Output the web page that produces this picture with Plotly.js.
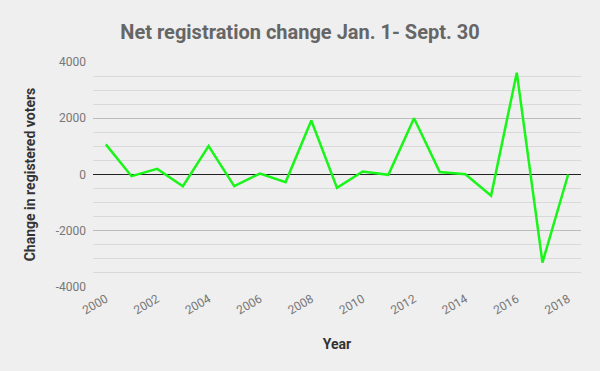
<!DOCTYPE html>
<html><head><meta charset="utf-8">
<script src="https://cdn.plot.ly/plotly-3.0.1.min.js"></script>
<style>html,body{margin:0;padding:0;background:#efefef;}#c{width:600px;height:371px;}</style>
</head><body><div id="c"></div>
<script>
const years = [2000,2001,2002,2003,2004,2005,2006,2007,2008,2009,2010,2011,2012,2013,2014,2015,2016,2017,2018];
const netChange = [1070,-60,200,-415,1010,-415,35,-270,1920,-475,105,-10,2000,85,10,-750,3620,-3130,0];
const yTicks = [-4000,-2000,0,2000,4000];
const xTicks = [2000,2002,2004,2006,2008,2010,2012,2014,2016,2018];

Plotly.newPlot('c', [{
  x: years, y: netChange, type: 'scatter', mode: 'lines',
  line: {color: '#19f519', width: 2.5}, hoverinfo: 'x+y'
}], {
  width: 600, height: 371,
  paper_bgcolor: '#efefef', plot_bgcolor: '#efefef',
  margin: {l: 93, r: 19, t: 62, b: 84},
  font: {family: 'Roboto, sans-serif'},
  title: {text: 'Net registration change Jan. 1- Sept. 30', x: 0.5, xanchor: 'center', y: 0.915, yanchor: 'middle',
    font: {size: 20, color: '#666', family: 'Roboto, sans-serif', weight: 'bold'}},
  showlegend: false,
  xaxis: {range: [1999.5, 2018.5], tickvals: xTicks, ticktext: xTicks.map(String), tickangle: -30,
    showgrid: false, zeroline: false, showline: false, ticks: '',
    tickfont: {size: 12, color: '#777'}, ticklabelstandoff: 2,
    title: {text: 'Year', font: {size: 14, color: '#333', weight: 'bold'}, standoff: 22}},
  yaxis: {range: [-4000, 4000], tickvals: yTicks, ticktext: yTicks.map(String),
    showgrid: true, gridcolor: '#bbbbbb', gridwidth: 1,
    zeroline: true, zerolinecolor: '#222', zerolinewidth: 1,
    minor: {dtick: 500, tick0: 0, showgrid: true, gridcolor: '#d9d9d9', gridwidth: 1, ticks: ''},
    ticks: '', tickfont: {size: 12, color: '#777'}, ticklabelstandoff: 6,
    title: {text: 'Change in registered voters', font: {size: 14, color: '#333', weight: 'bold'}, standoff: 16}}
}, {displayModeBar: false, staticPlot: true});
</script></body></html>
